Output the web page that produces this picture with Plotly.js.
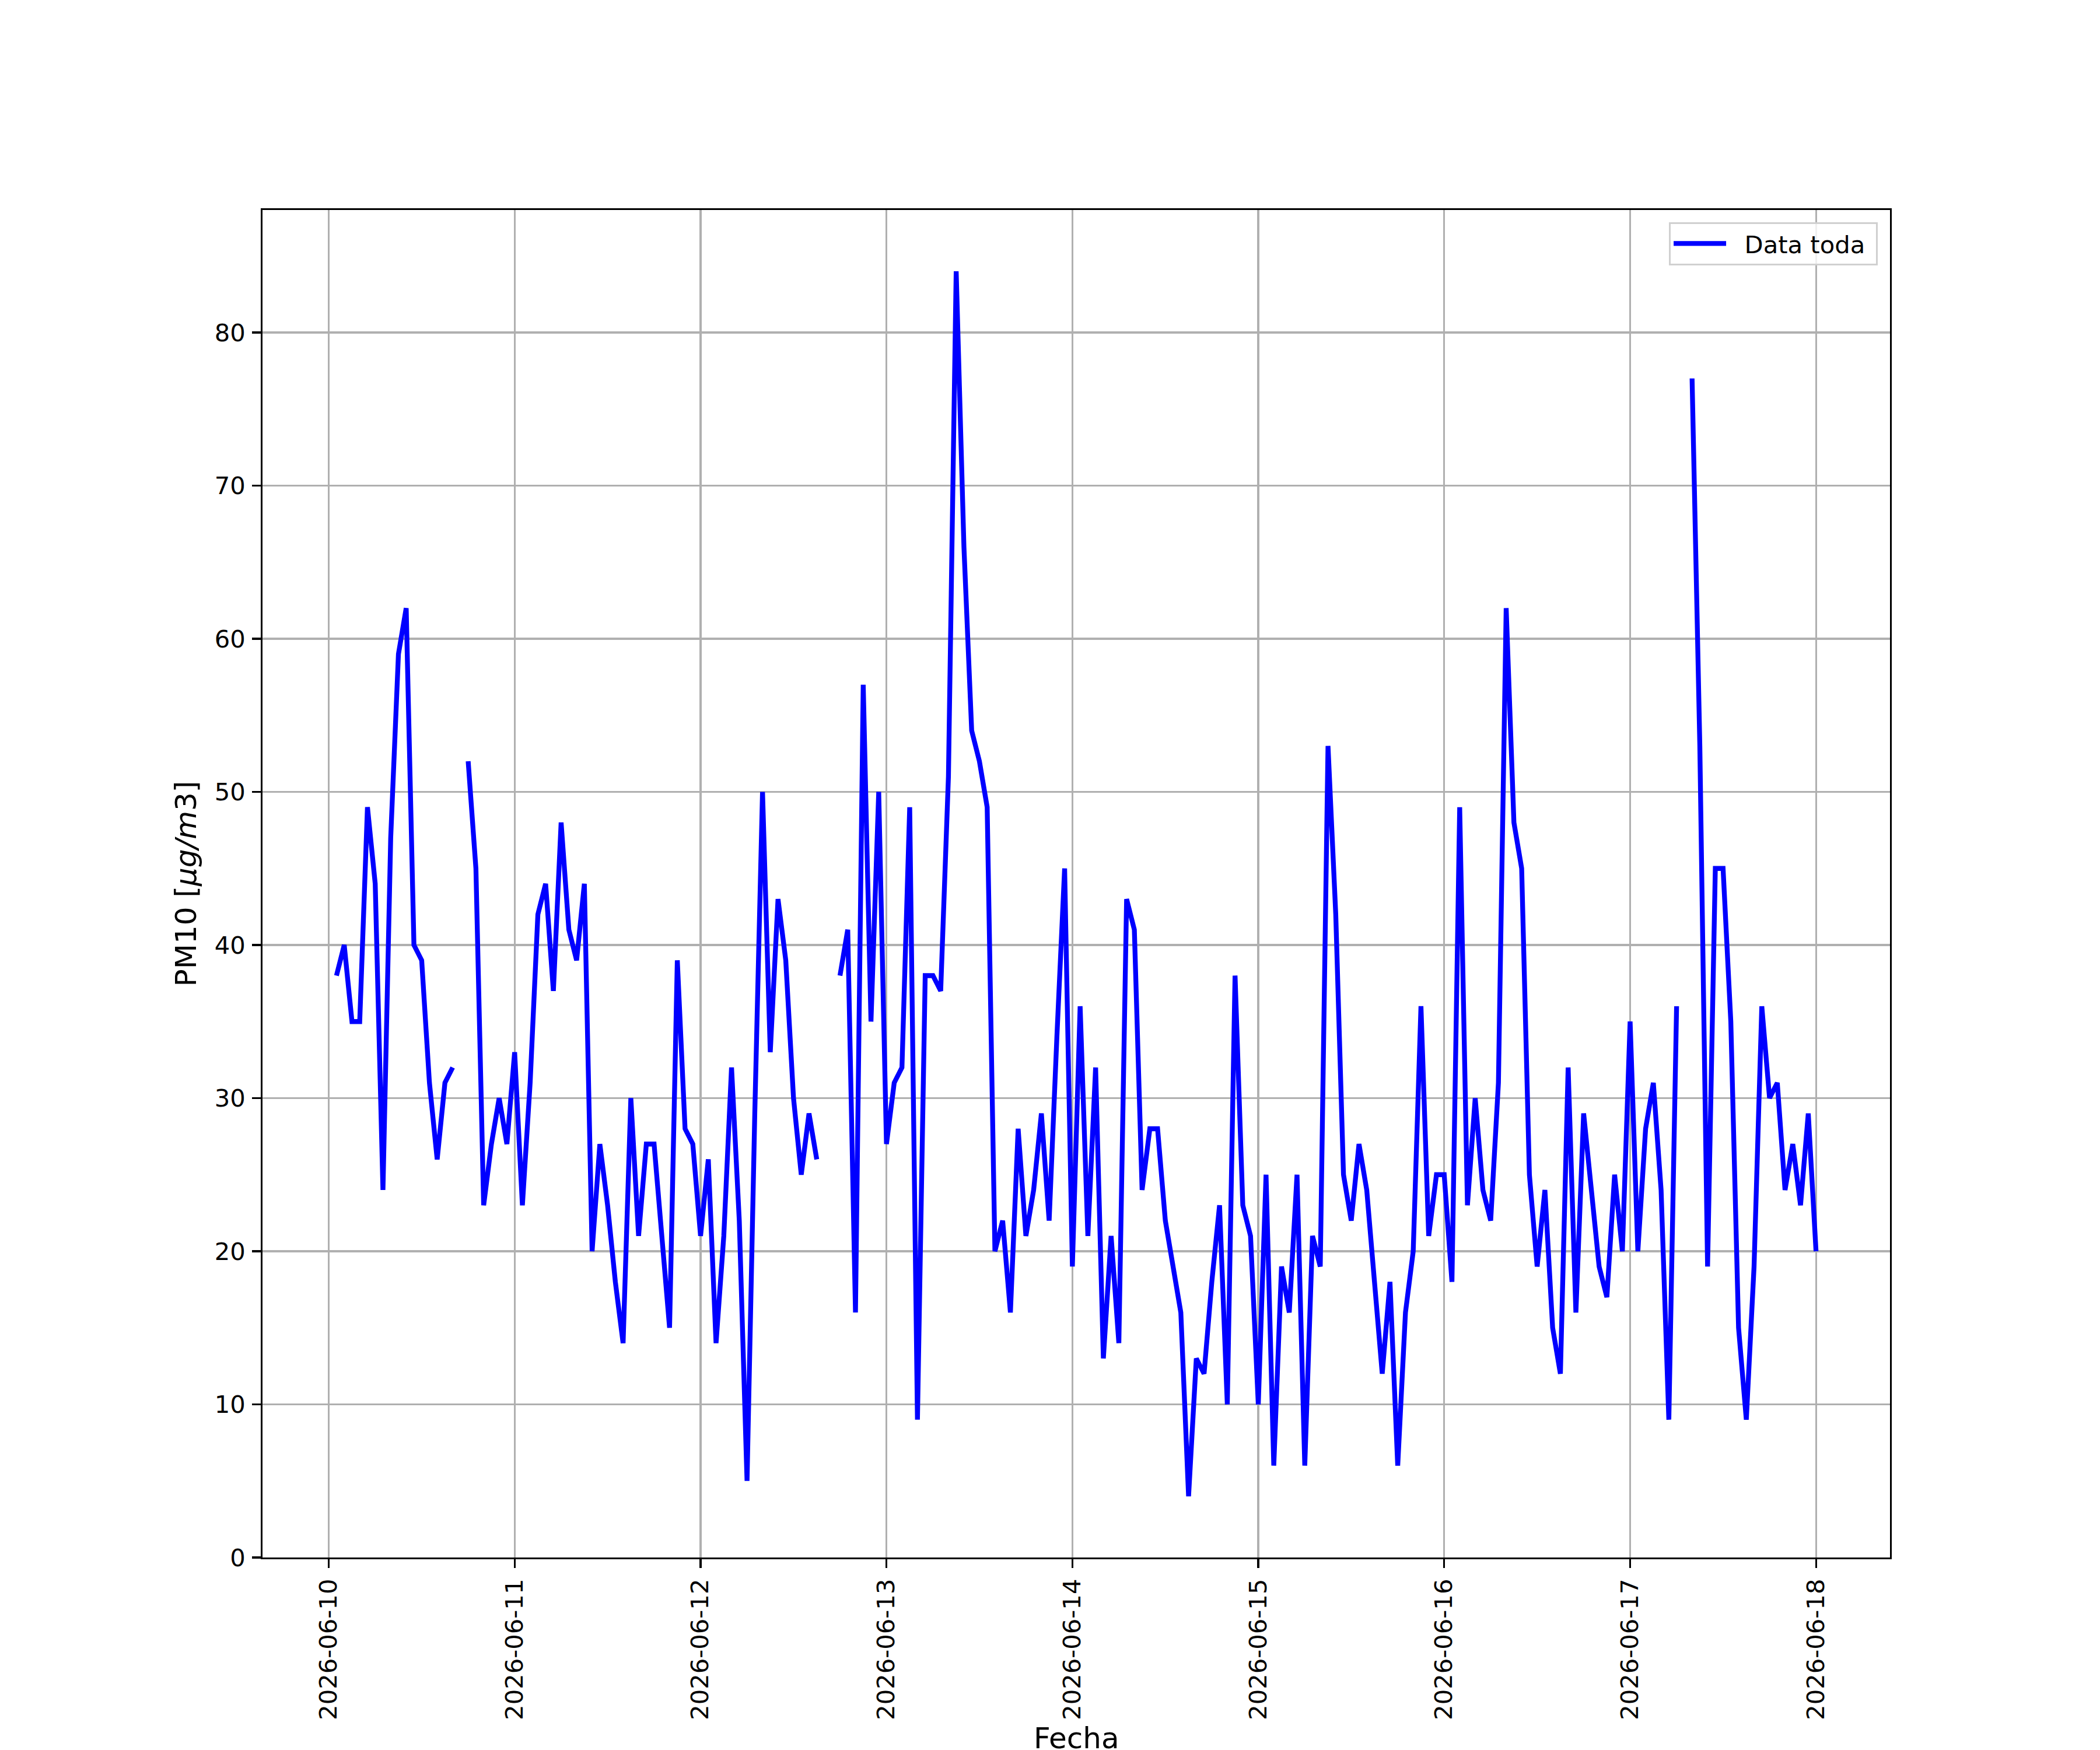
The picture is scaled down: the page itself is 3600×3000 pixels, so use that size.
<!DOCTYPE html>
<html>
<head>
<meta charset="utf-8">
<script src="https://cdn.plot.ly/plotly-3.0.1.min.js"></script>
<style>
  html, body { margin: 0; padding: 0; background: white; }
  #chart { width: 3600px; height: 3000px; }
</style>
</head>
<body>
<div id="chart"></div>
<script>
// hourly PM10 readings, first one at 2026-06-10 01:00 (null = missing hour)
const startDay = '2026-06-10';
const firstHour = 1;

const day10 = [38, 40, 35, 35, 49, 44, 24, 47, 59, 62, 40, 39, 31, 26, 31, 32,
               null, 52, 45, 23, 27, 30, 27, 33];
const day11 = [23, 31, 42, 44, 37, 48, 41, 39, 44, 20, 27, 23, 18, 14, 30, 21,
               27, 27, 21, 15, 39, 28, 27, 21];
const day12 = [26, 14, 21, 32, 22, 5, 29, 50, 33, 43, 39, 30, 25, 29, 26, null,
               null, 38, 41, 16, 57, 35, 50, 27];
const day13 = [31, 32, 49, 9, 38, 38, 37, 51, 84, 66, 54, 52, 49, 20, 22, 16,
               28, 21, 24, 29, 22, 34, 45, 19];
const day14 = [36, 21, 32, 13, 21, 14, 43, 41, 24, 28, 28, 22, 19, 16, 4, 13,
               12, 18, 23, 10, 38, 23, 21, 10];
const day15 = [25, 6, 19, 16, 25, 6, 21, 19, 53, 42, 25, 22, 27, 24, 18, 12,
               18, 6, 16, 20, 36, 21, 25, 25];
const day16 = [18, 49, 23, 30, 24, 22, 31, 62, 48, 45, 25, 19, 24, 15, 12, 32,
               16, 29, 24, 19, 17, 25, 20, 35];
const day17 = [20, 28, 31, 24, 9, 36, null, 77, 53, 19, 45, 45, 35, 15, 9, 19,
               36, 30, 31, 24, 27, 23, 29, 20];

const yTicks = [0, 10, 20, 30, 40, 50, 60, 70, 80];
const seriesName = 'Data toda';
const xLabel = 'Fecha';
const yLabel = 'PM10 [<i>μg/m</i>3]';

const pm10 = [].concat(day10, day11, day12, day13, day14, day15, day16, day17);

function hourStamp(h) {
  const t = Date.parse(startDay + 'T00:00:00Z') + h * 3600e3;
  return new Date(t).toISOString().slice(0, 19).replace('T', ' ');
}

const times = pm10.map((_, i) => hourStamp(firstHour + i));

// matplotlib-like 5% padding on the time axis
const span = pm10.length - 1;
const xRange = [hourStamp(firstHour - span * 0.05), hourStamp(firstHour + span * 1.05)];

const font = 'DejaVu Sans, sans-serif';
const tickPx = 41.7;
const labelPx = 50;
const thin = 3.3;
const nb = '\u00a0';

const trace = {
  x: times, y: pm10, mode: 'lines',
  name: nb + nb + seriesName + nb,   // pad like matplotlib's legend spacing
  connectgaps: false,
  line: { color: '#0000ff', width: 8.3 }
};

const axisCommon = {
  showline: true, mirror: true, linecolor: 'black', linewidth: thin,
  ticks: 'outside', ticklen: 14.6, tickwidth: thin, tickcolor: 'black',
  showgrid: true, gridcolor: '#b0b0b0', gridwidth: thin,
  zeroline: false, automargin: false,
  tickfont: { family: font, size: tickPx, color: 'black' }
};

const layout = {
  width: 3600, height: 3000,
  margin: { l: 450, r: 360, t: 360, b: 330 },
  paper_bgcolor: 'white', plot_bgcolor: 'white',
  font: { family: font, color: 'black' },
  showlegend: true,
  legend: {
    x: 0.9925, y: 0.991, xanchor: 'right', yanchor: 'top',
    bgcolor: 'rgba(255,255,255,0.8)', bordercolor: '#d0d0d0', borderwidth: 3,
    font: { family: font, size: tickPx, color: 'black' },
    itemwidth: 90
  },
  xaxis: Object.assign({}, axisCommon, {
    type: 'date', range: xRange,
    tick0: startDay, dtick: 86400000, tickformat: '%Y-%m-%d', tickangle: -90,
    ticklabelstandoff: 2
  }),
  yaxis: Object.assign({}, axisCommon, {
    range: [0, 88], tickmode: 'array', tickvals: yTicks,
    ticklabelstandoff: 3,
    title: { text: yLabel, font: { family: font, size: labelPx }, standoff: 16 }
  }),
  // x label placed as an annotation so it can sit just under the rotated dates
  annotations: [{
    text: xLabel, xref: 'paper', yref: 'paper', x: 0.5, y: -0.134,
    xanchor: 'center', yanchor: 'middle', showarrow: false,
    font: { family: font, size: labelPx, color: 'black' }
  }]
};

Plotly.newPlot('chart', [trace], layout, { displayModeBar: false, staticPlot: true });
</script>
</body>
</html>
